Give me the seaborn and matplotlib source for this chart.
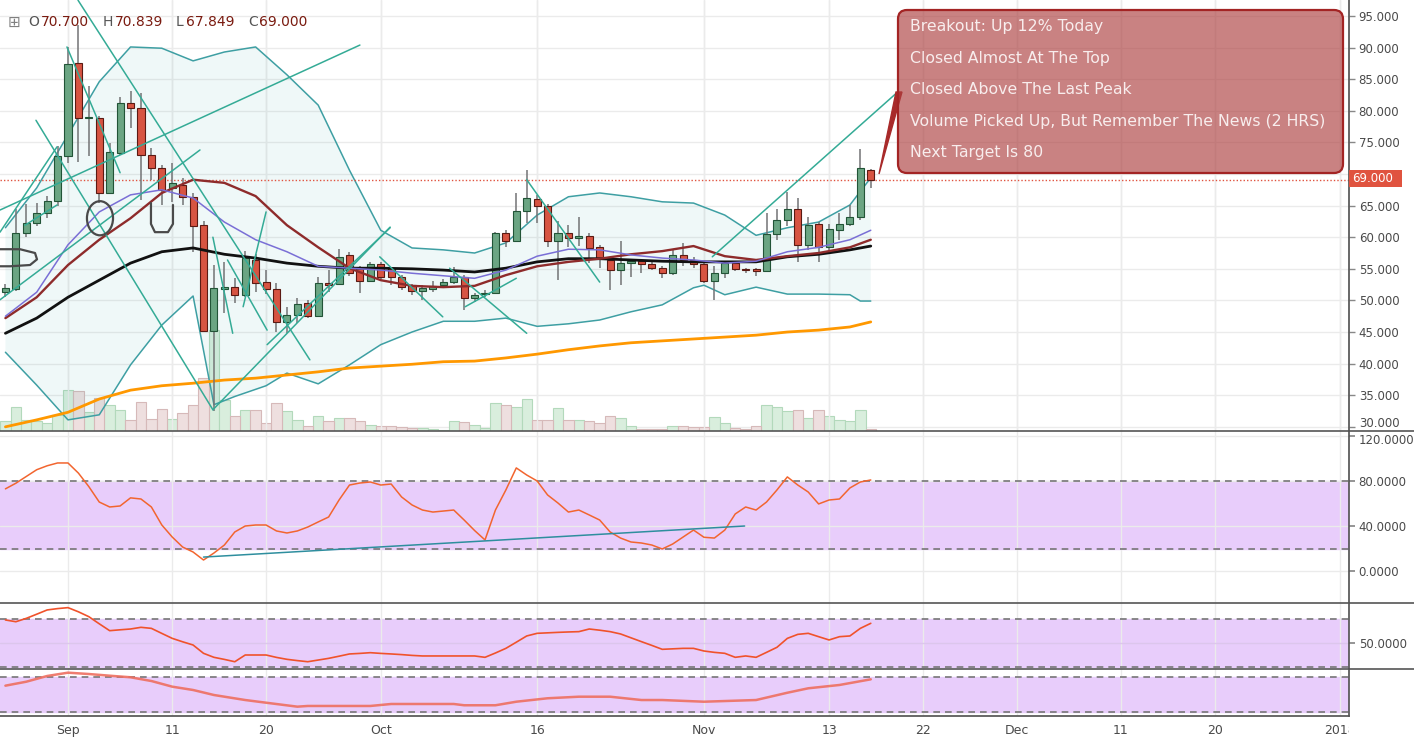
import numpy as np
import pandas as pd
import matplotlib
matplotlib.use("Agg")
import matplotlib.pyplot as plt
import matplotlib.dates as mdates
import seaborn as sns
from matplotlib.patches import FancyBboxPatch, Ellipse, Rectangle, Polygon
from matplotlib.lines import Line2D
from matplotlib.transforms import IdentityTransform, Bbox, TransformedBbox, ScaledTranslation

sns.set_theme(style="white")
plt.rcParams['font.family'] = ['DejaVu Sans']

# ---------------- data ----------------
start_date = "2017-08-26"
n_days = 84
open_ = [51.3, 51.8, 60.7, 62.2, 63.8, 65.7, 72.8, 87.6, 78.8, 78.9, 67.0, 73.3, 81.2, 80.4,
         73.0, 71.0, 67.8, 68.3, 66.4, 61.9, 45.2, 51.8, 52.1, 50.9, 56.4, 52.9, 51.8, 46.6,
         47.7, 49.6, 47.5, 52.8, 52.6, 57.2, 55.1, 53.1, 55.8, 55.1, 53.7, 52.4, 51.5, 51.8,
         52.4, 52.9, 53.7, 50.4, 51.0, 51.2, 60.7, 59.4, 64.1, 66.1, 65.0, 59.4, 60.7, 59.9,
         60.2, 58.4, 56.4, 54.8, 55.9, 56.2, 55.8, 55.1, 54.3, 57.2, 56.4, 55.8, 53.1, 54.3,
         55.9, 55.0, 54.9, 54.7, 60.5, 62.7, 64.5, 58.8, 62.1, 58.4, 61.1, 62.1, 63.2, 70.7]
high = [52.6, 64.5, 65.3, 65.4, 66.5, 74.4, 90.1, 93.5, 84.0, 79.2, 74.9, 82.2, 83.1, 82.8,
        74.1, 71.4, 71.8, 69.4, 67.0, 62.5, 55.6, 56.0, 53.5, 57.8, 57.3, 54.8, 52.8, 49.0,
        50.4, 50.0, 53.7, 54.8, 58.1, 57.7, 55.4, 56.1, 56.1, 55.3, 54.0, 52.6, 52.4, 53.0,
        53.4, 55.3, 54.0, 51.2, 51.7, 60.9, 61.1, 67.0, 70.6, 66.6, 65.3, 62.5, 61.9, 63.2,
        60.7, 58.8, 56.6, 59.4, 56.5, 56.4, 56.2, 55.4, 58.0, 59.1, 56.8, 56.0, 55.4, 56.2,
        56.2, 55.2, 55.1, 63.8, 64.5, 67.2, 66.2, 63.2, 62.4, 62.1, 63.8, 65.1, 74.0, 70.839]
low = [50.6, 51.5, 60.0, 61.8, 63.0, 65.0, 71.7, 71.9, 72.8, 65.4, 66.8, 73.0, 77.3, 65.9,
       69.0, 65.1, 65.5, 65.1, 57.7, 45.0, 32.5, 48.0, 49.6, 50.5, 51.3, 51.0, 45.0, 44.8,
       46.4, 47.2, 47.3, 51.3, 52.4, 53.8, 51.2, 52.9, 53.4, 52.4, 51.7, 50.9, 50.0, 51.4,
       52.0, 52.6, 48.5, 49.8, 50.5, 51.0, 58.4, 59.2, 62.2, 62.2, 58.4, 53.2, 58.4, 58.6,
       55.9, 55.1, 51.6, 52.4, 53.7, 54.3, 54.8, 53.5, 54.0, 55.5, 55.2, 52.8, 50.0, 53.5,
       54.6, 54.3, 53.8, 54.5, 59.6, 61.8, 56.1, 58.0, 56.1, 58.0, 59.6, 61.8, 62.7, 67.849]
close = [51.9, 60.7, 62.2, 63.8, 65.7, 72.8, 87.4, 78.9, 79.0, 67.0, 73.5, 81.2, 80.4, 73.0,
         71.0, 67.5, 68.5, 66.4, 61.8, 45.2, 52.0, 52.2, 50.9, 56.7, 52.8, 51.8, 46.6, 47.7,
         49.4, 47.5, 52.8, 52.5, 56.9, 54.3, 53.1, 55.8, 53.7, 53.7, 52.1, 51.5, 52.0, 52.3,
         52.9, 53.7, 50.4, 50.9, 51.2, 60.7, 59.4, 64.1, 66.2, 65.0, 59.4, 60.7, 59.9, 60.2,
         58.3, 56.7, 54.8, 55.9, 56.2, 55.8, 55.1, 54.3, 57.2, 56.4, 55.8, 53.1, 54.3, 55.9,
         55.0, 54.8, 54.7, 60.5, 62.7, 64.5, 58.8, 61.9, 58.4, 61.3, 62.1, 63.2, 71.0, 69.0]
volume_m = [100, 240, 110, 100, 80, 160, 410, 400, 190, 330, 260, 210, 110, 290, 120, 220,
            120, 180, 260, 530, 1010, 310, 150, 210, 210, 80, 280, 200, 110, 50, 150, 100,
            130, 130, 100, 60, 50, 50, 40, 30, 30, 20, 15, 100, 90, 60, 30, 280, 260, 240,
            320, 110, 110, 230, 110, 110, 100, 80, 150, 130, 50, 20, 20, 20, 50, 50, 40, 40,
            140, 80, 30, 20, 50, 260, 240, 200, 210, 130, 210, 150, 110, 100, 210, 20]

# indicator readings (day index since start, value)
ind_idx = [0, 3, 6, 9, 12, 15, 18, 21, 24, 27, 30, 33, 36, 39, 42, 45, 48, 51, 54, 57,
           60, 63, 66, 69, 72, 75, 78, 81, 83]
bb_upper = [61.5, 67.8, 76.2, 84.6, 90.1, 89.9, 87.9, 89.3, 90.1, 85.7, 80.9, 70.6, 61.1,
            58.3, 58.0, 57.5, 59.1, 63.5, 66.4, 67.0, 66.4, 65.6, 65.4, 63.5, 60.3, 61.5,
            62.4, 65.1, 69.4]
bb_lower_idx = [0, 3, 6, 9, 12, 15, 18, 20, 22, 25, 27, 30, 33, 36, 39, 42, 45, 48, 51, 54,
                57, 60, 63, 66, 67, 69, 72, 75, 78, 81, 82, 83]
bb_lower = [41.8, 36.6, 31.1, 31.9, 39.8, 46.1, 50.7, 33.5, 34.8, 36.5, 38.5, 36.8, 39.8,
            43.0, 45.0, 46.7, 46.7, 47.2, 45.9, 46.3, 46.9, 48.2, 49.3, 52.0, 52.4, 50.9,
            52.1, 51.0, 51.0, 50.9, 49.9, 49.9]
ma_fast = [47.5, 51.3, 58.8, 64.0, 66.7, 67.5, 66.2, 62.4, 59.6, 57.7, 55.4, 55.1, 54.8,
           54.3, 53.9, 53.5, 54.8, 57.0, 58.1, 58.0, 57.2, 56.7, 56.4, 55.9, 56.2, 57.7,
           58.4, 59.6, 61.1]
ma_mid = [47.2, 50.5, 55.6, 59.6, 63.0, 67.0, 69.1, 68.6, 66.5, 61.9, 58.4, 55.1, 53.2,
          52.3, 52.1, 52.3, 54.0, 55.4, 56.1, 56.6, 57.3, 57.8, 58.6, 57.0, 56.4, 57.0,
          57.5, 58.4, 59.6]
ma_slow = [44.8, 47.2, 50.5, 53.2, 55.9, 57.7, 58.3, 57.3, 56.7, 55.9, 55.4, 55.1, 55.1,
           55.0, 54.8, 54.5, 55.1, 56.1, 56.6, 56.6, 56.4, 56.2, 56.1, 56.1, 56.1, 56.9,
           57.3, 58.0, 58.6]
ma_long = [30.0, 31.1, 32.3, 34.4, 35.8, 36.5, 36.9, 37.4, 37.7, 38.2, 38.7, 39.3, 39.6,
           39.9, 40.3, 40.4, 40.9, 41.5, 42.2, 42.8, 43.3, 43.6, 43.9, 44.2, 44.5, 45.0,
           45.3, 45.8, 46.6]

rsi = [73, 78, 84, 90, 93.5, 96, 96, 87, 75, 61.3, 56.9, 57.8, 65, 64, 56.9, 40.9, 30.2,
       21.3, 16.9, 9.8, 16, 23.1, 34.7, 40, 40.9, 40.9, 35.6, 33.8, 35.6, 39.1, 43.6, 48,
       63.1, 76.4, 78.2, 79.1, 76.4, 77.3, 65.8, 58.7, 54.2, 52.4, 53.3, 54.2, 45.3, 36,
       27.6, 54.2, 72, 91.6, 85.3, 80, 67.6, 60.4, 52.4, 54.2, 49.8, 45.3, 34.7, 29.3, 25.8,
       24.9, 23.1, 19.6, 24, 30.2, 36.4, 30, 29.3, 36.4, 50.7, 56.9, 54.2, 61.3, 72, 83.6,
       76.4, 70.2, 59.6, 63.1, 64, 73.8, 79.1, 80.9]
rsi_trend_idx = [19.0, 70.9]
rsi_trend_val = [12.4, 40.0]

osc2 = [78.8, 76.6, 80.8, 86, 91.3, 93, 94.2, 89, 82.9, 74, 65.4, 66.5, 67.5, 69.6, 68.3,
        62, 55.8, 51.5, 47.5, 37.1, 32.1, 29.5, 26.6, 35, 35, 35, 32, 29.6, 28, 26.6, 28.7,
        30.8, 33.5, 36.3, 37, 37.9, 37, 36.3, 35.5, 34.5, 33.8, 33.8, 33.8, 33.8, 33.8,
        33.8, 32.1, 37.5, 43.3, 51, 58.8, 62.1, 62.7, 63.3, 63.8, 64.2, 67.5, 66, 64.2,
        61.3, 56.5, 51.7, 47, 42.1, 42.7, 43.3, 43.3, 40, 38.3, 37.1, 32.1, 33.8, 32.1,
        38.3, 44.6, 55.8, 60.8, 62.1, 57.9, 53.8, 57.9, 58.8, 68.3, 74.6]

osc3_idx = [0, 2, 4, 6, 8, 10, 12, 14, 16, 18, 20, 23, 25, 28, 29, 35, 37, 43, 44, 47, 49,
            52, 55, 58, 61, 63, 67, 72, 75, 77, 80, 83]
osc3 = [65.1, 71.9, 81.7, 87.4, 85.1, 82.2, 79.5, 73.1, 63.4, 57.7, 49.1, 40.5, 35.9, 29.1,
        30.3, 30.3, 33.7, 33.7, 31.5, 31.5, 37.6, 43.5, 46.2, 46.2, 40.5, 40.5, 37.6, 40.5,
        53.0, 60.6, 66.3, 76.0]

# hand-drawn trend lines: (day index, price) -> (day index, price)
drawn_lines = [(-0.52, 64.3, 34.0, 90.4), (6.96, 97.5, 29.2, 40.6), (2.93, 78.5, 19.9, 32.7),
               (19.9, 32.7, 36.9, 61.6), (-0.52, 50.1, 18.66, 73.8), (-0.52, 60.8, 4.95, 74.3),
               (67.8, 56.9, 85.6, 83.0), (42.6, 55.1, 50.0, 44.8), (50.0, 69.1, 57.0, 52.9),
               (44.1, 49.0, 49.0, 53.5), (25.1, 43.0, 36.9, 61.5), (35.9, 56.9, 41.95, 47.4),
               (5.9, 90.1, 11.0, 70.2), (19.9, 60.0, 21.8, 44.8), (25.0, 64.0, 22.8, 49.0),
               (21.3, 56.4, 25.1, 45.3), (1.88, 61.9, 4.95, 65.1)]
u_shape_idx = [13.96, 13.96, 14.34, 15.59, 16.07, 16.07]
u_shape_val = [65.4, 62.1, 60.8, 60.8, 62.1, 65.1]
s_shape_idx = [-0.52, 1.4, 2.84, 3.03, 2.36, 0.44, -0.52]
s_shape_val = [58.1, 58.1, 57.5, 56.5, 55.6, 55.4, 55.4]

tick_dates = ["2017-09-01", "2017-09-11", "2017-09-20", "2017-10-01", "2017-10-16",
              "2017-11-01", "2017-11-13", "2017-11-22", "2017-12-01", "2017-12-11",
              "2017-12-20", "2018-01-01"]
tick_labels = ["Sep", "11", "20", "Oct", "16", "Nov", "13", "22", "Dec", "11", "20", "2018"]
price_ticks = [30, 35, 40, 45, 50, 55, 60, 65, 70, 75, 80, 85, 90, 95]
rsi_ticks = [0, 40, 80, 120]
last_price = 69.0
header = [("O", "70.700"), ("H", "70.839"), ("L", "67.849"), ("C", "69.000")]
notes = ["Breakout: Up 12% Today", "Closed Almost At The Top", "Closed Above The Last Peak",
         "Volume Picked Up, But Remember The News (2 HRS)", "Next Target Is 80"]

# ---------------- derived ----------------
dates = pd.date_range(start_date, periods=n_days, freq="D")
x0 = mdates.date2num(dates[0].to_pydatetime())
xd = x0 + np.arange(n_days)
O, H, L, C = map(np.array, (open_, high, low, close))
up = C >= O


def xi(idx):
    return x0 + np.asarray(idx, dtype=float)


sep1 = mdates.date2num(pd.Timestamp("2017-09-01").to_pydatetime())
XL = (sep1 - 6.52, sep1 + 122.87)
tick_x = [mdates.date2num(pd.Timestamp(t).to_pydatetime()) for t in tick_dates]

W, Hh = 1414, 738
fig = plt.figure(figsize=(W / 100, Hh / 100), dpi=100)
fig.patch.set_facecolor("white")


def rect(top_px, bot_px, right_px=1349):
    return [0, 1 - bot_px / Hh, right_px / W, (bot_px - top_px) / Hh]


grid_c = "#ebebeb"
lab_c = "#4a4a4a"
ax_vol = fig.add_axes(rect(0, 431))
ax = fig.add_axes(rect(0, 431))
ax_rsi = fig.add_axes(rect(431, 603))
ax_p3 = fig.add_axes(rect(603, 669))
ax_p4 = fig.add_axes(rect(669, 716))
ax_vol.set_zorder(0)
ax.set_zorder(1)
ax.patch.set_visible(False)

for a in (ax_vol, ax, ax_rsi, ax_p3, ax_p4):
    a.set_xlim(*XL)
    for s in a.spines.values():
        s.set_visible(False)
    a.tick_params(axis="x", which="both", length=0, labelbottom=False)

# volume
ax_vol.set_ylim(0, 4310)
ax_vol.axis("off")
for t in tick_x:
    ax_vol.axvline(t, color=grid_c, lw=1, zorder=0)
for p in price_ticks:
    ax_vol.axhline((p - 29.34) / (97.53 - 29.34) * 4310, color=grid_c, lw=1, zorder=0)
vol = np.array(volume_m, dtype=float)
ax_vol.bar(xd[up], vol[up], width=1.0, color="#d9eedd", edgecolor="#b3d9bb", linewidth=0.8, zorder=1)
ax_vol.bar(xd[~up], vol[~up], width=1.0, color="#eedfdf", edgecolor="#d6b9b9", linewidth=0.8, zorder=1)

# main price axes
ax.set_ylim(29.34, 97.53)
band_c = "#3e9fa3"
poly_x = np.concatenate([xi(ind_idx), xi(bb_lower_idx)[::-1]])
poly_y = np.concatenate([bb_upper, bb_lower[::-1]])
ax.fill(poly_x, poly_y, color="#2a9d9d", alpha=0.07, lw=0, zorder=1)
sns.lineplot(x=xi(ind_idx), y=bb_upper, ax=ax, color=band_c, lw=1.1, estimator=None, zorder=2)
sns.lineplot(x=xi(bb_lower_idx), y=bb_lower, ax=ax, color=band_c, lw=1.1, estimator=None, zorder=2)
sns.lineplot(x=xi(ind_idx), y=ma_long, ax=ax, color="#ff9800", lw=2.0, estimator=None, zorder=2)
sns.lineplot(x=xi(ind_idx), y=ma_slow, ax=ax, color="#111111", lw=2.0, estimator=None, zorder=5)
sns.lineplot(x=xi(ind_idx), y=ma_mid, ax=ax, color="#8e2b2b", lw=1.7, estimator=None, zorder=5)
sns.lineplot(x=xi(ind_idx), y=ma_fast, ax=ax, color="#7a6fd6", lw=1.1, estimator=None, zorder=5)

draw_c = "#34ab96"
for (a0, p0, a1, p1) in drawn_lines:
    sns.lineplot(x=xi([a0, a1]), y=[p0, p1], ax=ax, color=draw_c, lw=1.1, estimator=None,
                 sort=False, zorder=6)
ax.add_patch(Ellipse((x0 + 9.07, 63.0), 2.5, 5.4, fill=False, ec="#4a4a4a", lw=1.6, zorder=7))
ax.plot(xi(u_shape_idx), u_shape_val, color="#4a4a4a", lw=1.6, zorder=7)
ax.plot(xi(s_shape_idx), s_shape_val, color="#4a4a4a", lw=1.6, zorder=7)

# candles
ax.vlines(xd, L, H, color="#737375", lw=1.1, zorder=3)
body_b = np.minimum(O, C)
body_h = np.maximum(np.abs(C - O), 0.18)
ax.bar(xd[up], body_h[up], bottom=body_b[up], width=0.68, color="#6ba583",
       edgecolor="#225437", linewidth=0.8, zorder=4)
ax.bar(xd[~up], body_h[~up], bottom=body_b[~up], width=0.68, color="#d75442",
       edgecolor="#5b1a13", linewidth=0.8, zorder=4)

ax.axhline(last_price, color="#e0533f", ls=(0, (1, 1.5)), lw=1, zorder=2)
for t in tick_x:
    ax.axvline(t, color=grid_c, lw=1, zorder=0)

ax.yaxis.tick_right()
ax.set_yticks(price_ticks)
# the 70 label sits under the last-price tag in the reference
ax.set_yticklabels(["" if p == 70 else f"{p:.3f}" for p in price_ticks])
ax.tick_params(axis="y", length=4, width=1, color="#888888", labelsize=8.5,
               labelcolor=lab_c, pad=3, direction="out")
for p, lbl in zip(price_ticks, ax.get_yticklabels()):
    if p == 30:
        lbl.set_transform(lbl.get_transform() + ScaledTranslation(0, 5 / 100, fig.dpi_scale_trans))
ax.spines["right"].set_visible(True)
ax.spines["right"].set_color("#555555")
ax.set_xlabel("")
ax.set_ylabel("")

# RSI panel
ax_rsi.set_ylim(-28.4, 124.4)
ax_rsi.axhspan(20, 80, color="#e8cdfb", zorder=0)
for t in tick_x:
    ax_rsi.axvline(t, color=grid_c, lw=1, zorder=1)
for v in rsi_ticks:
    ax_rsi.axhline(v, color=grid_c, lw=1, zorder=1)
for v in (20, 80):
    ax_rsi.axhline(v, color="#767676", lw=1.2, ls=(0, (4, 3)), zorder=2)
sns.lineplot(x=xd, y=rsi, ax=ax_rsi, color="#f2652f", lw=1.1, estimator=None, zorder=3)
sns.lineplot(x=xi(rsi_trend_idx), y=rsi_trend_val, ax=ax_rsi, color="#2e8e9e", lw=1.1,
             estimator=None, zorder=3)
ax_rsi.yaxis.tick_right()
ax_rsi.set_yticks(rsi_ticks)
ax_rsi.set_yticklabels([f"{v:.4f}" for v in rsi_ticks])
ax_rsi.tick_params(axis="y", length=4, color="#888888", labelsize=8.5, labelcolor=lab_c, pad=3)
for v, lbl in zip(rsi_ticks, ax_rsi.get_yticklabels()):
    if v == 120:
        lbl.set_transform(lbl.get_transform() + ScaledTranslation(0, -3 / 100, fig.dpi_scale_trans))
ax_rsi.spines["right"].set_visible(True)
ax_rsi.spines["right"].set_color("#555555")

# panel 3
ax_p3.set_ylim(17.5, 100)
ax_p3.axhspan(20, 80, color="#e8cdfb", zorder=0)
for t in tick_x:
    ax_p3.axvline(t, color=grid_c, lw=1, zorder=1)
ax_p3.axhline(50, color="#dcc6ec", lw=1, zorder=1)
for v in (20, 80):
    ax_p3.axhline(v, color="#767676", lw=1.2, ls=(0, (4, 3)), zorder=2)
sns.lineplot(x=xd, y=osc2, ax=ax_p3, color="#f0522b", lw=1.2, estimator=None, zorder=3)
ax_p3.yaxis.tick_right()
ax_p3.set_yticks([50])
ax_p3.set_yticklabels(["50.0000"])
ax_p3.tick_params(axis="y", length=4, color="#888888", labelsize=8.5, labelcolor=lab_c, pad=3)
ax_p3.spines["right"].set_visible(True)
ax_p3.spines["right"].set_color("#555555")

# panel 4
ax_p4.set_ylim(13.1, 93.7)
ax_p4.axhspan(20, 80, color="#e8cdfb", zorder=0)
for t in tick_x:
    ax_p4.axvline(t, color=grid_c, lw=1, zorder=1)
for v in (20, 80):
    ax_p4.axhline(v, color="#767676", lw=1.2, ls=(0, (4, 3)), zorder=2)
sns.lineplot(x=xi(osc3_idx), y=osc3, ax=ax_p4, color="#ee6f60", lw=1.8, alpha=0.9,
             estimator=None, zorder=3)
ax_p4.set_yticks([])
ax_p4.spines["right"].set_visible(True)
ax_p4.spines["right"].set_color("#555555")
ax_p4.spines["bottom"].set_visible(True)
ax_p4.spines["bottom"].set_color("#555555")
ax_p4.set_xticks(tick_x)
ax_p4.set_xticklabels(tick_labels)
ax_p4.tick_params(axis="x", length=4, color="#888888", labelbottom=True, labelsize=9,
                  labelcolor=lab_c, pad=2)
clip = TransformedBbox(Bbox([[0, 0], [1349 / W, 1]]), fig.transFigure)
for lbl in ax_p4.get_xticklabels():
    lbl.set_clip_on(True)
    lbl.set_clip_box(clip)

for a in (ax, ax_rsi, ax_p3, ax_p4):
    a.set_xlabel("")
    a.set_ylabel("")
    if a.get_legend():
        a.get_legend().remove()

# separators across the full width
for ypx in (431, 603, 669):
    fig.add_artist(Line2D([0, 1], [1 - ypx / Hh] * 2, transform=fig.transFigure,
                          color="#555555", lw=1.2))

# header
ident = IdentityTransform()
fig.text(8 / W, 1 - 22 / Hh, "\u229e", fontsize=11, color="#808080", va="center")
for xp, gap, (letter, val) in zip([28, 103, 176, 248], [13, 12, 10, 11.5], header):
    fig.text(xp / W, 1 - 22 / Hh, letter, fontsize=10, color="#555555", va="center")
    fig.text((xp + gap) / W, 1 - 22 / Hh, val, fontsize=10, color="#7a1b10", va="center")

# last price label
fig.add_artist(Rectangle((1349, Hh - 187), 53, 17, transform=ident, facecolor="#e0533f",
                         edgecolor="none", zorder=10))
fig.text(1352 / W, 1 - 178.5 / Hh, f"{last_price:.3f}", fontsize=8.5, color="white",
         va="center", zorder=11)

# annotation callout
fig.add_artist(Polygon([[879, Hh - 174], [896, Hh - 92], [902, Hh - 92]], closed=True,
                       transform=ident, facecolor="#a82a2a", edgecolor="#a82a2a", lw=1,
                       zorder=9))
fig.add_artist(FancyBboxPatch((898, Hh - 173), 445, 163,
                              boxstyle="round,pad=0,rounding_size=9", transform=ident,
                              facecolor=(0.68, 0.25, 0.25, 0.65), edgecolor="#a32424",
                              lw=1.6, zorder=10))
for k, s in enumerate(notes):
    ypx = 27 + k * 31.5
    fig.text(910 / W, 1 - ypx / Hh, s, fontsize=11.3, color="#f8eded", va="center",
             zorder=11)

fig.savefig("out.png", dpi=100, facecolor="white")
